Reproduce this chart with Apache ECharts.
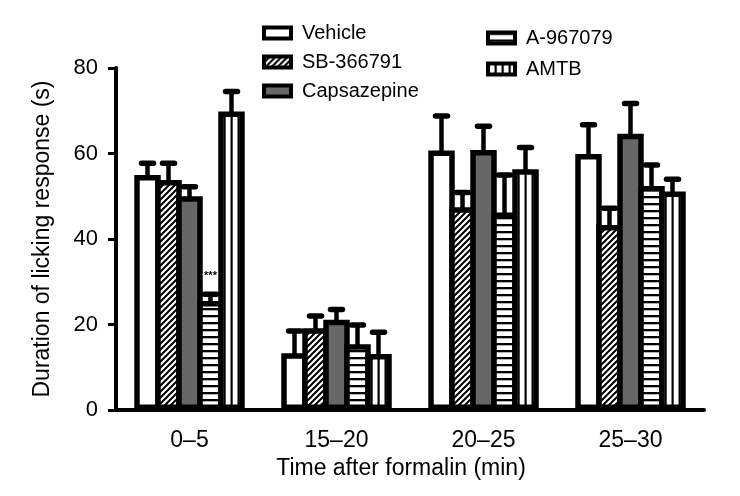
<!DOCTYPE html>
<html>
<head>
<meta charset="utf-8">
<script src="https://cdn.jsdelivr.net/npm/echarts@6/dist/echarts.min.js"></script>
<style>
html,body{margin:0;padding:0;background:#fff;}
#chart{width:740px;height:496px;}
</style>
</head>
<body>
<div id="chart"></div>
<script>
// ---- data ----
const categories = ['0–5', '15–20', '20–25', '25–30'];
const seriesNames = ['Vehicle', 'SB-366791', 'Capsazepine', 'A-967079', 'AMTB'];
const vehicle     = [55.0, 13.3, 60.7, 59.9];
const vehicleErr  = [2.7, 5.2, 8.1, 6.8];
const sb366791    = [53.8, 19.1, 47.4, 43.3];
const sb366791Err = [3.9, 2.9, 3.5, 3.9];
const capsazepine = [50.0, 21.1, 60.8, 64.6];
const capsazepineErr = [2.2, 2.4, 5.6, 7.1];
const a967079     = [25.5, 15.4, 46.2, 52.4];
const a967079Err  = [1.6, 4.5, 8.8, 4.9];
const amtb        = [69.8, 13.1, 56.3, 51.1];
const amtbErr     = [4.7, 5.1, 5.1, 2.9];
const a967079Notes = ['***', '', '', ''];
const yTicks = [0, 20, 40, 60, 80];

const FONT = '"Liberation Sans", Arial, Helvetica, sans-serif';
const BORDER = 5.5;
const BAR_W = 26.5;              // outer bar width (border drawn inside)
const PITCH = BAR_W - BORDER;    // neighbouring bars share one border

function tile(w, h, draw) {
  const c = document.createElement('canvas');
  c.width = w; c.height = h;
  const ctx = c.getContext('2d');
  ctx.fillStyle = '#fff';
  ctx.fillRect(0, 0, w, h);
  ctx.fillStyle = '#000';
  ctx.strokeStyle = '#000';
  draw(ctx);
  return { image: c, repeat: 'repeat' };
}
const hatch = tile(6, 6, ctx => {
  ctx.lineWidth = 2;
  ctx.beginPath();
  ctx.moveTo(0, 6); ctx.lineTo(6, 0);
  ctx.moveTo(-1, 1); ctx.lineTo(1, -1);
  ctx.moveTo(5, 7); ctx.lineTo(7, 5);
  ctx.stroke();
});
const hLines = tile(8, 7, ctx => { ctx.fillRect(0, 0, 8, 2.3); });
const vLines = tile(7, 8, ctx => { ctx.fillRect(-0.5, 0, 2.2, 8); ctx.fillRect(6.5, 0, 2.2, 8); });

const fills = ['#ffffff', hatch, '#676767', hLines, vLines];
const values = [vehicle, sb366791, capsazepine, a967079, amtb];
const errors = [vehicleErr, sb366791Err, capsazepineErr, a967079Err, amtbErr];
const notes = [null, null, null, a967079Notes, null];

const series = [];
values.forEach((vals, i) => {
  series.push({
    name: seriesNames[i],
    type: 'bar',
    data: vals,
    barWidth: BAR_W,
    barGap: (-BORDER / BAR_W * 100) + '%',
    z: 2,
    itemStyle: { color: fills[i], borderColor: '#000', borderWidth: BORDER },
    emphasis: { disabled: true }
  });
});
values.forEach((vals, i) => {
  const errs = errors[i];
  const nt = notes[i];
  series.push({
    name: 'err-' + seriesNames[i],
    type: 'custom',
    z: 3,
    silent: true,
    data: vals.map((v, k) => [k, v, v + errs[k]]),
    encode: { x: 0, y: [1, 2] },
    renderItem: function (params, api) {
      const k = api.value(0);
      const base = api.coord([k, api.value(1)]);
      const top = api.coord([k, api.value(2)]);
      const x = base[0] + (i - 2) * PITCH;
      const children = [
        { type: 'line', shape: { x1: x, y1: base[1] + 2, x2: x, y2: top[1] },
          style: { stroke: '#000', lineWidth: 4.5 } },
        { type: 'line', shape: { x1: x - 6, y1: top[1], x2: x + 6, y2: top[1] },
          style: { stroke: '#000', lineWidth: 5.5, lineCap: 'round' } }
      ];
      if (nt && nt[k]) {
        children.push({ type: 'text', x: x, y: top[1] - 18,
          style: { text: nt[k], fill: '#000', font: 'bold 11px ' + FONT, align: 'center', verticalAlign: 'middle' } });
      }
      return { type: 'group', children: children };
    }
  });
});

const legendCommon = {
  orient: 'vertical',
  icon: 'rect',
  itemWidth: 27,
  itemHeight: 11,
  selectedMode: false,
  itemStyle: { borderColor: '#000', borderWidth: 4 },
  textStyle: { fontSize: 20, color: '#000', fontFamily: FONT, padding: [0, 0, 0, 6] }
};

const chart = echarts.init(document.getElementById('chart'), null, { renderer: 'canvas' });
chart.setOption({
  animation: false,
  backgroundColor: '#fff',
  legend: [
    Object.assign({}, legendCommon, { data: seriesNames.slice(0, 3), left: 257, top: 18, itemGap: 9 }),
    Object.assign({}, legendCommon, { data: seriesNames.slice(3), left: 481, top: 23, itemGap: 11 })
  ],
  grid: { left: 116, right: 36, top: 68, bottom: 86, containLabel: false },
  xAxis: {
    type: 'category',
    data: categories,
    name: 'Time after formalin (min)',
    nameLocation: 'middle',
    nameGap: 45,
    nameTextStyle: { fontSize: 23, color: '#000', fontFamily: FONT, padding: [0, 18, 0, 0] },
    axisLine: { lineStyle: { color: '#000', width: 4 } },
    axisTick: { alignWithLabel: true, length: 8, lineStyle: { color: '#000', width: 3 } },
    axisLabel: { fontSize: 23, color: '#000', fontFamily: FONT, margin: 19 }
  },
  yAxis: {
    type: 'value',
    min: yTicks[0],
    max: yTicks[yTicks.length - 1],
    interval: yTicks[1] - yTicks[0],
    name: 'Duration of licking response (s)',
    nameLocation: 'middle',
    nameGap: 62,
    nameTextStyle: { fontSize: 23, color: '#000', fontFamily: FONT },
    axisLine: { show: true, lineStyle: { color: '#000', width: 4 } },
    axisTick: { show: true, length: 8, lineStyle: { color: '#000', width: 3 } },
    splitLine: { show: false },
    axisLabel: { fontSize: 22, color: '#000', fontFamily: FONT, margin: 18 }
  },
  series: series
});
</script>
</body>
</html>
